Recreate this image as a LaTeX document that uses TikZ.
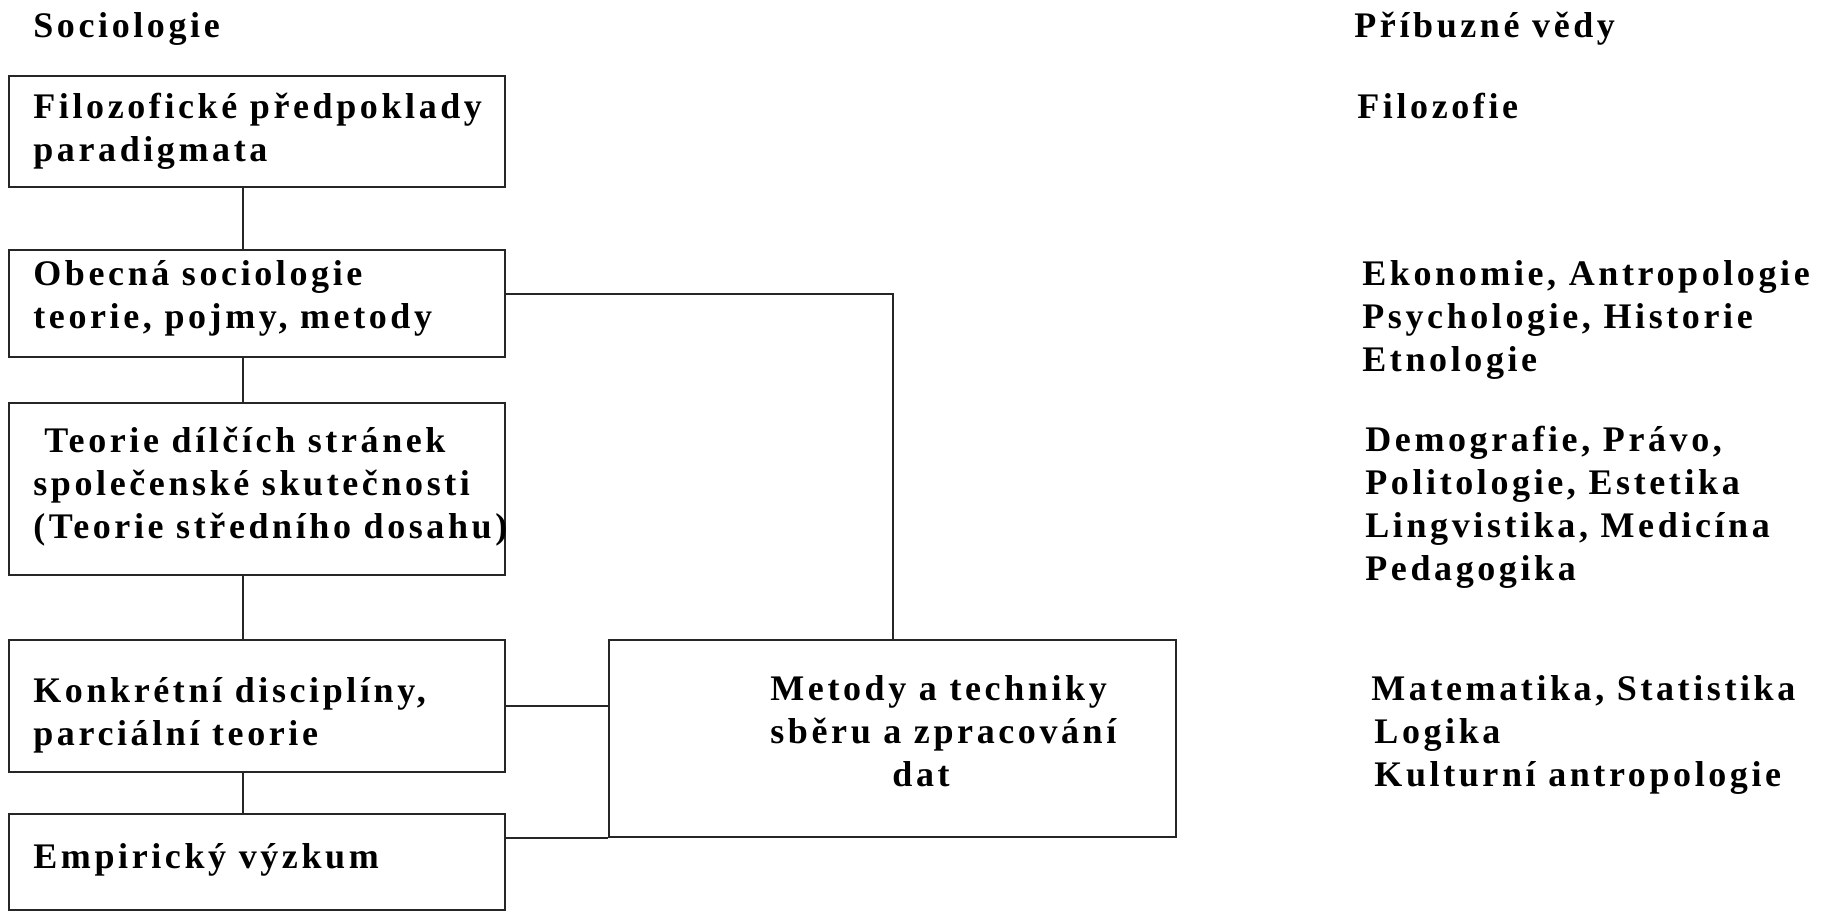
\documentclass[tikz,border=0pt]{standalone}
\usepackage{fontspec}
\setmainfont{Liberation Serif}
\newfontfamily\bfont[LetterSpace=10]{Liberation Serif}
\usetikzlibrary{fit,calc}
\begin{document}
\begin{tikzpicture}[x=0.5pt,y=-0.5pt,
  box/.style={draw=black!85, line width=1pt, inner sep=0pt},
  lbl/.style={anchor=base west, align=left, inner sep=0pt, text=black,
    font=\bfont\bfseries\fontsize{18}{21.5}\selectfont},
  link/.style={draw=black!85, line width=1pt}]
\useasboundingbox[fill=white] (0,0) rectangle (1830,911);

% boxes
\node[box, fit={(9.3,75.9) (505.4,186.7)}] (b1) {};
\node[box, fit={(9.3,249.8) (505.4,357.1)}] (b2) {};
\node[box, fit={(9.3,402.6) (505.4,575.4)}] (b3) {};
\node[box, fit={(9.3,639.6) (505.4,771.5)}] (b4) {};
\node[box, fit={(9.3,813.5) (505.4,909.5)}] (b5) {};
\node[box, fit={(609.2,639.6) (1176.4,836.8)}] (b6) {};

% headers (anchored at the baseline of the last line)
\node[lbl] (hs) at (33,37) {Sociologie};
\node[lbl] (hp) at (1354,37) {Příbuzné vědy};

% box texts
\node[lbl] (t1) at (33,161) {Filozofické předpoklady\\paradigmata};
\node[lbl] (t2) at (33,328) {Obecná sociologie\\teorie, pojmy, metody};
\node[lbl] (t3) at (33,538) {\hspace*{5.5pt}Teorie dílčích stránek\\společenské skutečnosti\\(Teorie středního dosahu)};
\node[lbl] (t4) at (33,745) {Konkrétní disciplíny,\\parciální teorie};
\node[lbl] (t5) at (33,868) {Empirický výzkum};
\node[lbl] (t6) at (770,786) {Metody a techniky\\sběru a zpracování\\\hspace*{61pt}dat};

% related sciences
\node[lbl] (r1) at (1357,118) {Filozofie};
\node[lbl] (r2) at (1362,371) {Ekonomie, Antropologie\\Psychologie, Historie\\Etnologie};
\node[lbl] (r3) at (1365,580) {Demografie, Právo,\\Politologie, Estetika\\Lingvistika, Medicína\\Pedagogika};
\node[lbl] (r4) at (1371,786) {Matematika, Statistika\\\hspace*{1.5pt}Logika\\\hspace*{1.5pt}Kulturní antropologie};

% connectors
\coordinate (cx) at (242.8,0);
\coordinate (ry) at (0,294.1);
\draw[link] (b1.south -| cx) -- (b2.north -| cx);
\draw[link] (b2.south -| cx) -- (b3.north -| cx);
\draw[link] (b3.south -| cx) -- (b4.north -| cx);
\draw[link] (b4.south -| cx) -- (b5.north -| cx);
\draw[link] (b2.east |- ry) -| (b6.north);
\draw[link] (b4.east) -- (b4.east -| b6.west);
\draw[link] (b6.south west -| b5.east) -- (b6.south west);
\end{tikzpicture}
\end{document}
